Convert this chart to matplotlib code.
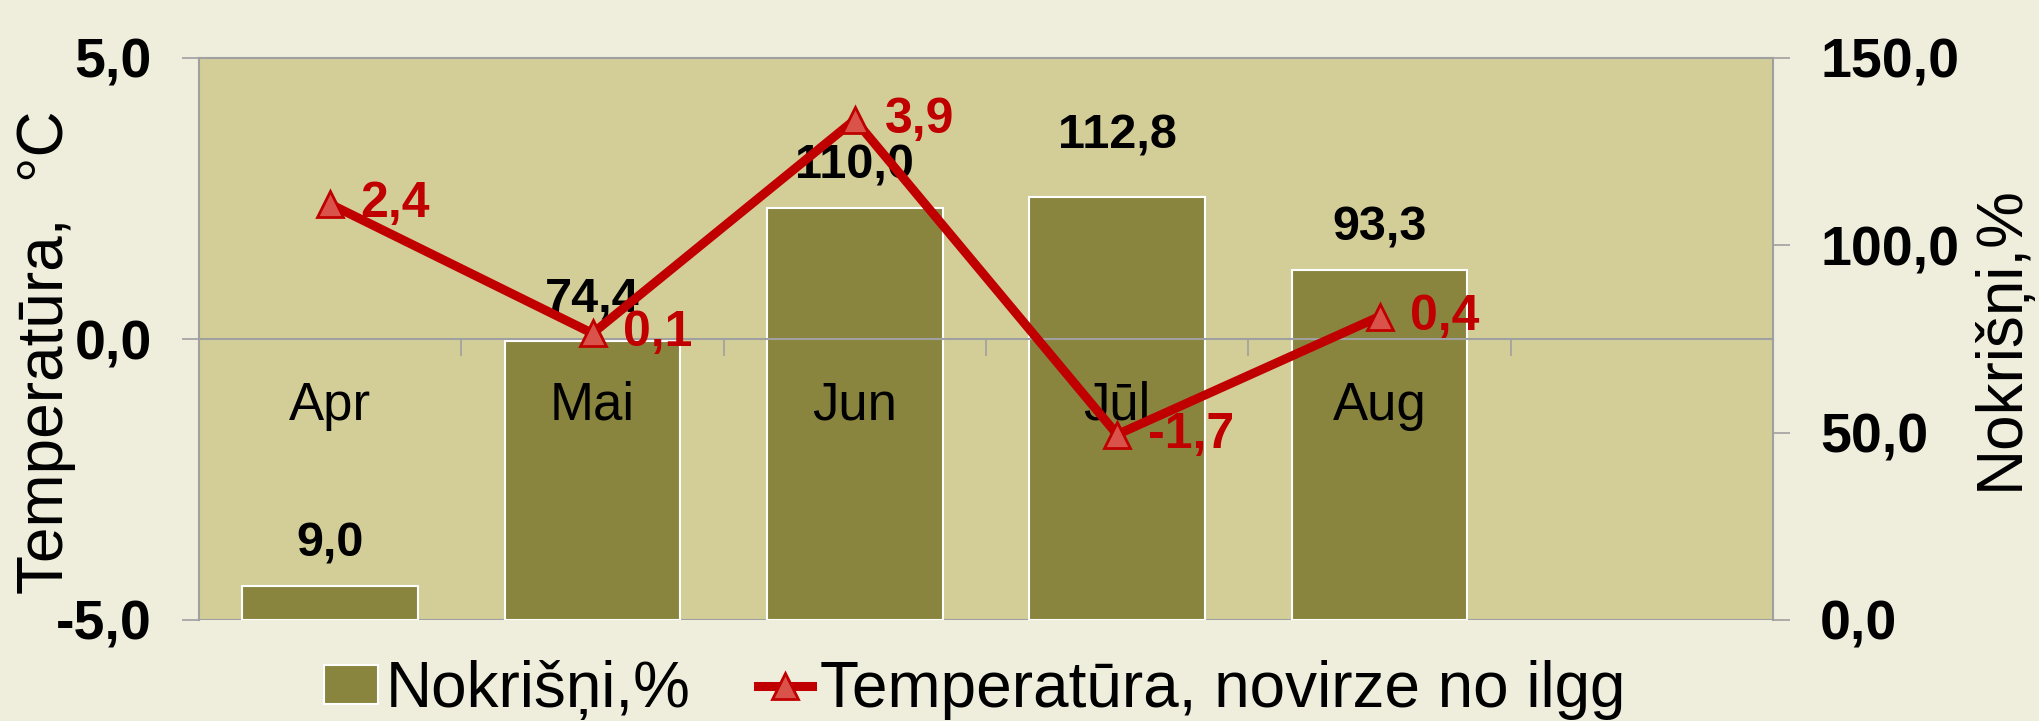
import matplotlib
matplotlib.use("Agg")
import matplotlib.pyplot as plt
from matplotlib.ticker import FixedLocator, FuncFormatter
from matplotlib.lines import Line2D
from matplotlib.patches import Patch

plt.rcParams['font.family'] = ['Liberation Sans', 'DejaVu Sans']

# ---- data ----
months = ["Apr", "Mai", "Jun", "Jūl", "Aug", ""]
precip = [9.0, 74.4, 110.0, 112.8, 93.3]          # Nokrišņi, %
temp_dev = [2.4, 0.1, 3.9, -1.7, 0.4]             # Temperatūra, novirze no ilgg
precip_ticks = [0, 50, 100, 150]
temp_ticks = [-5, 0, 5]
bar_label = "Nokrišņi,%"
line_label = "Temperatūra, novirze no ilgg"
left_ylabel = "Temperatūra,  °C"
right_ylabel = "Nokrišņi,%"
bar_label_extra = [0, 0, 0, 14, 0]   # extra label offset (pt) per bar

# ---- style ----
FIG_BG = "#EFEDDC"
PLOT_BG = "#D3CE98"
BAR_C = "#8A853E"
RED = "#C00000"
MARK_FILL = "#D9534A"
GRAY = "#A0A0A0"

W, H = 2039, 721
fig = plt.figure(figsize=(W / 100, H / 100), dpi=100, facecolor=FIG_BG)
L, R, T, B = 199, 1773, 58, 620
ax = fig.add_axes([L / W, 1 - B / H, (R - L) / W, (B - T) / H])
ax2 = ax.twinx()
ax.set_zorder(ax2.get_zorder() + 1)
ax.patch.set_visible(False)
ax2.patch.set_visible(True)
ax2.patch.set_facecolor(PLOT_BG)

fmt = FuncFormatter(lambda v, p: f"{v:.1f}".replace(".", ","))

n = len(months)
xs = list(range(n))

# bars (right axis)
bars = ax2.bar(xs[:len(precip)], precip, width=0.67, color=BAR_C,
               edgecolor="white", linewidth=1.5, zorder=2)
ax2.axhline(0, color=GRAY, lw=1.5, zorder=0.5)
ax2.set_ylim(0, 150)
ax2.set_yticks(precip_ticks)
ax2.yaxis.set_major_formatter(fmt)
for s in ax2.spines.values():
    s.set_visible(False)
ax2.tick_params(axis='y', which='major', direction='out', length=12,
                width=1.2, color=GRAY, pad=22, labelsize=40)
for lbl in ax2.get_yticklabels():
    lbl.set_fontweight('bold')

for i, v in enumerate(precip):
    ax2.annotate(f"{v:.1f}".replace(".", ","), (i, v),
                 xytext=(0, 14 + bar_label_extra[i]),
                 textcoords="offset points", ha="center", va="bottom",
                 fontsize=35, fontweight="bold", color="black", zorder=3)

# line (left axis)
ax.plot(xs[:len(temp_dev)], temp_dev, color=RED, lw=6.5, marker="^",
        markersize=19, markerfacecolor=MARK_FILL, markeredgecolor=RED,
        markeredgewidth=2, zorder=4, solid_capstyle="round")
for i, v in enumerate(temp_dev):
    ax.annotate(f"{v:.1f}".replace(".", ","), (i, v), xytext=(22, 0),
                textcoords="offset points", ha="left", va="center",
                fontsize=36, fontweight="bold", color=RED, zorder=5)

ax.set_ylim(-5, 5)
ax.set_xlim(-0.5, n - 0.5)
ax.set_yticks(temp_ticks)
ax.yaxis.set_major_formatter(fmt)
ax.tick_params(axis='y', which='major', direction='out', length=12,
               width=1.2, color=GRAY, pad=22, labelsize=40)
for lbl in ax.get_yticklabels():
    lbl.set_fontweight('bold')

ax.spines['bottom'].set_position(('data', 0))
for k in ['left', 'right', 'top', 'bottom']:
    ax.spines[k].set_color(GRAY)
    ax.spines[k].set_linewidth(1.5)
ax.xaxis.set_major_locator(FixedLocator(xs))
ax.set_xticklabels(months)
ax.xaxis.set_minor_locator(FixedLocator([i + 0.5 for i in range(n - 1)]))
ax.tick_params(axis='x', which='major', length=0, pad=30, labelsize=38)
ax.tick_params(axis='x', which='minor', direction='out', length=12,
               width=1.2, color=GRAY)

# axis titles
fig.text(46 / W, 1 - 352 / H, left_ylabel, rotation=90, ha="center",
         va="center", fontsize=46)
fig.text(2001 / W, 1 - 338 / H, right_ylabel, rotation=90, ha="center",
         va="center", fontsize=46)

# legend
handles = [Patch(facecolor=BAR_C, edgecolor="white", linewidth=1.5),
           Line2D([], [], color=RED, lw=6.5, marker="^", markersize=19,
                  markerfacecolor=MARK_FILL, markeredgecolor=RED,
                  markeredgewidth=2)]
fig.legend(handles, [bar_label, line_label], loc="center",
           bbox_to_anchor=(0.478, 1 - 690 / H), ncol=2, frameon=False,
           fontsize=46, handlelength=0.85, handleheight=0.55,
           handletextpad=0.12, columnspacing=1.05, borderpad=0)

fig.savefig("out.png", dpi=100, facecolor=FIG_BG)
